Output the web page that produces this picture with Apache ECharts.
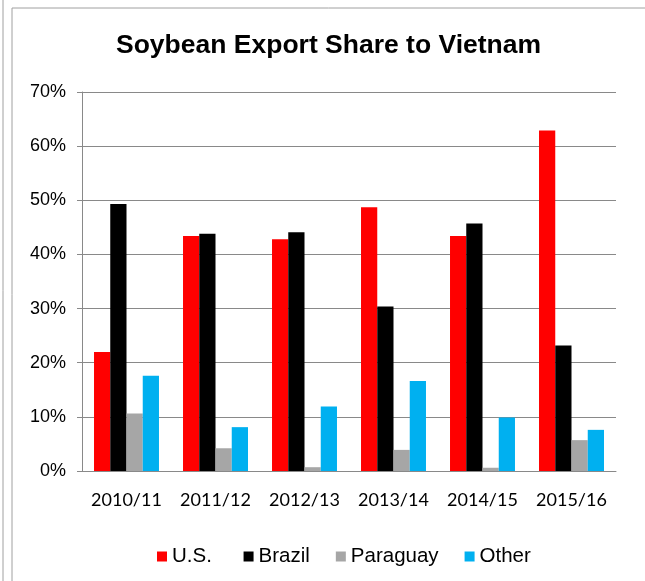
<!DOCTYPE html>
<html lang="en">
<head>
    <meta charset="UTF-8">
    <title>Soybean Export Share to Vietnam</title>
    <style>
        html, body { margin: 0; padding: 0; background: #fff; }
        #main { width: 645px; height: 581px; }
    </style>
</head>
<body>
<div id="main"></div>
<script src="https://cdn.jsdelivr.net/npm/echarts@6/dist/echarts.min.js"></script>
<script>
    // market years on the x axis
    var years = ['2010/11', '2011/12', '2012/13', '2013/14', '2014/15', '2015/16'];
    // share of Vietnam's soybean imports, percent
    var us = [22.0, 43.4, 42.8, 48.7, 43.4, 62.9];
    var brazil = [49.3, 43.8, 44.1, 30.4, 45.7, 23.2];
    var paraguay = [10.6, 4.2, 0.7, 3.9, 0.6, 5.7];
    var other = [17.6, 8.1, 11.9, 16.6, 9.9, 7.6];

    var names = ['U.S.', 'Brazil', 'Paraguay', 'Other'];
    var colors = ['#ff0000', '#000000', '#a6a6a6', '#00b0f0'];
    var values = [us, brazil, paraguay, other];

    var chart = echarts.init(document.getElementById('main'));
    var grey = '#898989';

    chart.setOption({
        animation: false,
        color: colors,
        title: {
            text: 'Soybean Export Share to Vietnam',
            left: 111,
            top: 27,
            textStyle: {
                fontFamily: 'Liberation Sans, Arial, sans-serif',
                fontSize: 26.5,
                fontWeight: 'bold',
                color: '#000'
            }
        },
        legend: {
            data: names,
            // a bit more room after the first entry, as in the original
            formatter: function (n) {
                return n === 'U.S.' ? n + ' ' : n;
            },
            left: 152,
            top: 541,
            itemWidth: 10,
            itemHeight: 10,
            itemGap: 26,
            icon: 'rect',
            textStyle: {
                fontFamily: 'Liberation Sans, Arial, sans-serif',
                fontSize: 20.5,
                color: '#000'
            }
        },
        grid: {
            left: 82,
            right: 29,
            top: 92,
            bottom: 110
        },
        xAxis: {
            type: 'category',
            data: years,
            axisLine: { lineStyle: { color: grey } },
            axisTick: { length: 5, lineStyle: { color: grey } },
            axisLabel: {
                interval: 0,
                fontFamily: 'Lato, sans-serif',
                fontSize: 18,
                color: '#000',
                margin: 20
            }
        },
        yAxis: {
            type: 'value',
            min: 0,
            max: 70,
            interval: 10,
            axisLine: { show: true, lineStyle: { color: grey } },
            axisTick: { show: true, length: 5, lineStyle: { color: grey } },
            splitLine: { lineStyle: { color: grey } },
            axisLabel: {
                formatter: '{value}%',
                fontFamily: 'Liberation Sans, Arial, sans-serif',
                fontSize: 18,
                color: '#000',
                margin: 16
            }
        },
        graphic: [
            { type: 'line', shape: { x1: 3, y1: 0, x2: 3, y2: 581 }, style: { stroke: '#a0a0a0', lineWidth: 1 } },
            { type: 'line', shape: { x1: 12, y1: 8, x2: 12, y2: 581 }, style: { stroke: '#a0a0a0', lineWidth: 1 } },
            { type: 'line', shape: { x1: 12, y1: 8, x2: 645, y2: 8 }, style: { stroke: '#a0a0a0', lineWidth: 1 } }
        ],
        series: names.map(function (n, i) {
            return {
                name: n,
                type: 'bar',
                barGap: 0,
                barCategoryGap: '27%',
                data: values[i]
            };
        })
    });
</script>
</body>
</html>
